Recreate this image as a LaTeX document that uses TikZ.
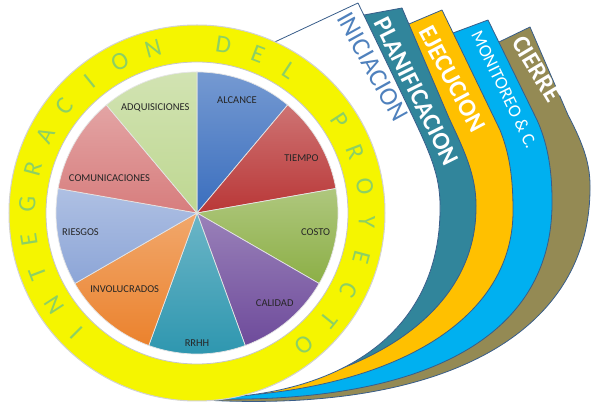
\documentclass[tikz,border=0pt]{standalone}
\usepackage{fontspec}
\setmainfont{Carlito}
\usetikzlibrary{positioning}

\definecolor{alcance}{RGB}{58,110,190}
\definecolor{tiempo}{RGB}{185,55,55}
\definecolor{costo}{RGB}{140,175,70}
\definecolor{calidad}{RGB}{110,75,155}
\definecolor{rrhh}{RGB}{45,150,175}
\definecolor{involucrados}{RGB}{235,130,45}
\definecolor{riesgos}{RGB}{140,165,215}
\definecolor{comunicaciones}{RGB}{215,125,125}
\definecolor{adquisiciones}{RGB}{190,215,145}
\definecolor{anillo}{RGB}{245,245,0}
\definecolor{letra}{RGB}{140,208,100}
\definecolor{planificacion}{RGB}{49,133,155}
\definecolor{ejecucion}{RGB}{255,192,0}
\definecolor{monitoreo}{RGB}{0,176,240}
\definecolor{cierre}{RGB}{148,138,84}
\definecolor{bandline}{RGB}{56,93,138}
\definecolor{inicio}{RGB}{79,129,189}

\begin{document}
\begin{tikzpicture}[x=1pt, y=1pt,
  band/.style={fill=#1, draw=bandline, line width=0.8pt, line join=round},
  slice/.style={top color=#1!70!white, bottom color=#1, draw=white!80!gray, line width=0.7pt},
  lbl/.style={font=\fontsize{10.5}{12}\selectfont, text=black!85},
  ringletter/.style={font=\fontsize{25}{27}\selectfont, text=letra},
  bandtext/.style={font=\fontsize{25}{27}\selectfont\bfseries, text=white, inner sep=0pt}
]
\useasboundingbox (-197,-201) rectangle (397,213);
\coordinate (O) at (0,0);
\coordinate (B) at (-34,-184);

% fases, de atras hacia adelante
\path[band=cierre] (O) -- (302,171) -- (333,186) -- (371,98)
  .. controls (383,75) and (393,53) .. (393,28)
  .. controls (395,-127) and (233,-209) .. (B) -- cycle;
\path[band=monitoreo] (O) -- (256,180) -- (291,193) -- (340,93)
  .. controls (349,73) and (355,48) .. (355,13)
  .. controls (357,-137) and (203,-199) .. (B) -- cycle;
\path[band=ejecucion] (O) -- (212,189) -- (245,203) -- (303,83)
  .. controls (313,58) and (316,33) .. (316,3)
  .. controls (317,-122) and (163,-191) .. (B) -- cycle;
\path[band=planificacion] (O) -- (167,198) -- (205,205) -- (252,95)
  .. controls (267,63) and (279,38) .. (279,8)
  .. controls (281,-117) and (133,-187) .. (B) -- cycle;
\path[band=white] (O) -- (3,136) -- (161,210) -- (215,98)
  .. controls (232,62) and (243,38) .. (243,8)
  .. controls (245,-132) and (123,-195) .. (B) -- cycle;

\node[bandtext, font=\fontsize{26}{28}\selectfont, text=inicio, rotate=-61] (tIni) at (175.5,146.5) {INICIACION};
\node[bandtext, rotate=-63.5] (tPla) at (219.5,121.5) {PLANIFICACION};
\node[bandtext, rotate=-62] (tEje) at (255.5,134) {EJECUCION};
\node[bandtext, font=\fontsize{18}{20}\selectfont, rotate=-64] (tMon) at (307.5,123.5) {MONITOREO \& C.};
\node[bandtext, rotate=-59] (tCie) at (339.7,144) {CIERRE};

% anillo de integracion
\draw[fill=anillo, draw=gray!35, line width=1pt] (O) circle[radius=188];
\draw[fill=white, draw=gray!45, line width=0.8pt] (O) circle[radius=151];

\foreach \a/\c in {90/alcance, 50/tiempo, 10/costo, -30/calidad, -70/rrhh,
                   -110/involucrados, -150/riesgos, -190/comunicaciones, -230/adquisiciones}
  \path[slice=\c] (O) -- (\a:141) arc[start angle=\a, end angle=\a-40, radius=141] -- cycle;

\foreach \t/\x/\y [count=\i] in {ALCANCE/40/113, TIEMPO/104.5/55, COSTO/118.7/-19.3,
    CALIDAD/77.7/-89.7, RRHH/0/-129.7, INVOLUCRADOS/-72.3/-76.3, RIESGOS/-116.5/-18.7,
    COMUNICACIONES/-87.5/35.3, ADQUISICIONES/-41.7/105.7}
  \node[lbl] (l\i) at (\x,\y) {\t};

\foreach \ch [count=\i from 0] in {I,N,T,E,G,R,A,C,I,O,N,{},D,E,L,{},P,R,O,Y,E,C,T,O}
  \node[ringletter, rotate={135-12*\i}] (g\i) at ({225-12*\i}:170) {\ch};
\end{tikzpicture}
\end{document}
